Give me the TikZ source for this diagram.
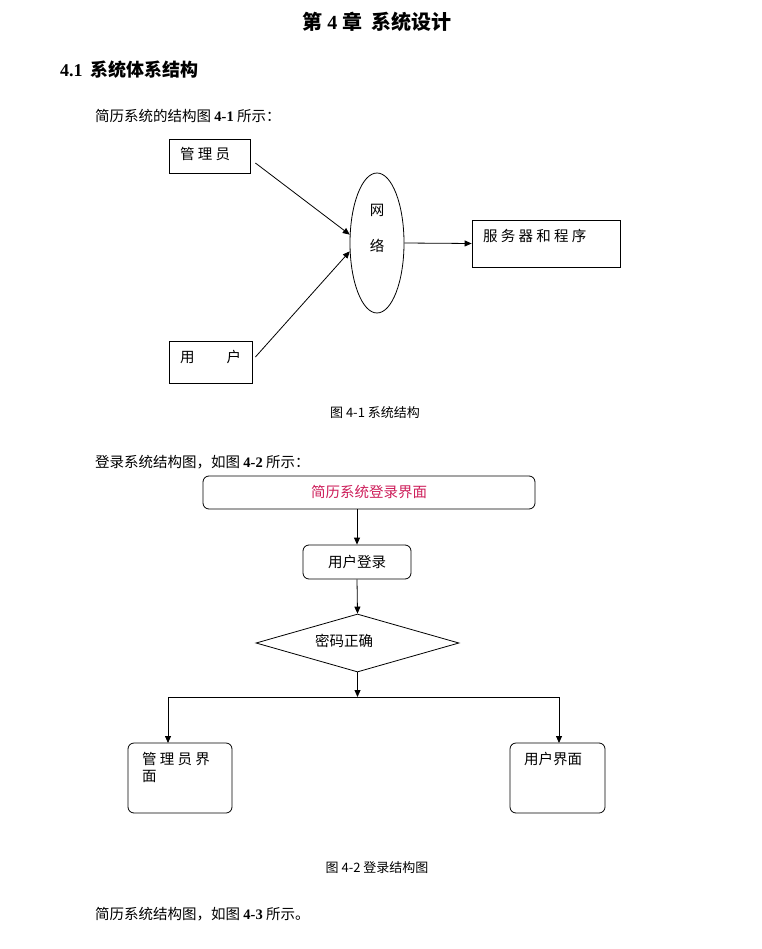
\documentclass[tikz,border=0pt]{standalone}
\usepackage{fontspec}
\setmainfont{Liberation Serif}
\newfontfamily\cjk{Noto Sans CJK SC}
\usetikzlibrary{arrows.meta,shapes.geometric}
\definecolor{titlered}{RGB}{205,30,90}
\begin{document}
\begin{tikzpicture}[x=1pt,y=-1pt,font=\cjk\fontsize{14.5}{17}\selectfont,
  box/.style={draw,thick,inner sep=0pt},
  rbox/.style={draw,thick,rounded corners=6pt,inner sep=0pt},
  arr/.style={-{Triangle[length=7pt,width=6pt]},thick},
  txt/.style={anchor=west,inner sep=0pt}]
\useasboundingbox (0,0) rectangle (761,949);
\node[inner sep=0] (t) at (377,22) {\fontsize{20}{23}\selectfont\bfseries 第 {\rmfamily 4} 章\ \ 系统设计};
\node[txt] (s) at (60,70) {\fontsize{18}{21}\selectfont\bfseries {\rmfamily 4.1}\ \ 系统体系结构};
\node[txt] (p1) at (95,116) {简历系统的结构图 {\rmfamily\bfseries 4-1} 所示：};
\node[box,minimum width=81pt,minimum height=34pt] (adm) at (209.5,156) {};
\node[txt] at (180,154) {管 理 员};
\node[draw,thick,ellipse,minimum width=54pt,minimum height=140pt,inner sep=0] (net) at (377,243) {};
\node at (377,210) {网};
\node at (377,246) {络};
\node[box,minimum width=148pt,minimum height=47pt] (srv) at (546,243.5) {};
\node[txt] at (483,236) {服 务 器 和 程 序};
\node[box,minimum width=83pt,minimum height=42pt] (usr) at (210.5,362) {};
\node[txt] at (180,357) {用\hspace{2.2em}户};
\draw[arr] (adm.east) ++(5,7) coordinate (a1) (a1) -- (net.163);
\draw[arr] (usr.east) ++(3,-5) coordinate (a2) (a2) -- (net.197);
\draw[arr] (net.east) -- (srv.west);
\node (c1) at (375,413) {\fontsize{13}{15}\selectfont 图 4-1 系统结构};
\node[txt] (p2) at (95,462) {登录系统结构图，如图 {\rmfamily\bfseries 4-2} 所示：};
\node[rbox,minimum width=332pt,minimum height=33pt,text=titlered] (lg) at (369,492.5) {简历系统登录界面};
\node[rbox,minimum width=108pt,minimum height=34pt] (ul) at (357,562) {用户登录};
\node[draw,thick,diamond,aspect=3.5,minimum width=203pt,minimum height=58pt,inner sep=0] (pw) at (357.5,643) {};
\node at (344,641) {密码正确};
\draw[arr] (lg.south -| ul.north) -- (ul.north);
\draw[arr] (ul.south) -- (pw.north);
\node[rbox,minimum width=104pt,minimum height=70pt] (ai) at (180,778) {};
\node[txt,anchor=north west,align=left] at (142,752) {管 理 员 界\\面};
\node[rbox,minimum width=95pt,minimum height=70pt] (ui) at (557.5,778) {};
\node[txt,anchor=north west] at (524,752) {用户界面};
\coordinate (j) at (357.5,697);
\draw[arr] (pw.south) -- (j);
\draw[arr] (j) -| (168,743);
\draw[arr] (j) -| (559,743);
\node (c2) at (377,868) {\fontsize{13}{15}\selectfont 图 4-2 登录结构图};
\node[txt] (p3) at (95,914) {简历系统结构图，如图 {\rmfamily\bfseries 4-3} 所示。};
\end{tikzpicture}
\end{document}
